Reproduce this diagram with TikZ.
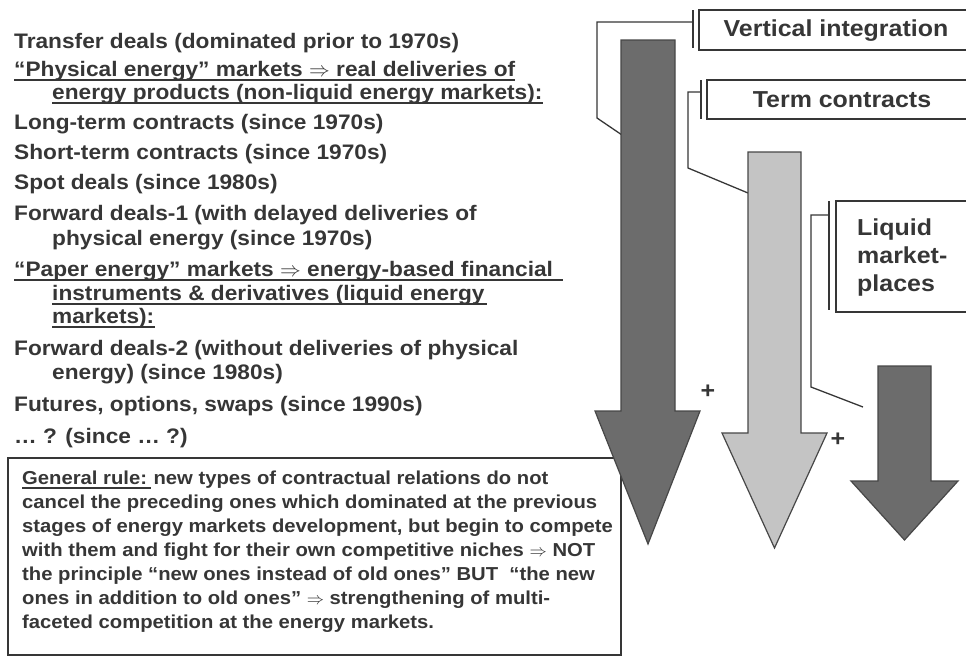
\documentclass[tikz,border=0pt]{standalone}
\usepackage{fontspec}
\setmainfont{Liberation Sans}[FakeStretch=1.08]
\usetikzlibrary{calc}
\definecolor{txt}{HTML}{363636}
\definecolor{darkar}{HTML}{6C6C6C}
\definecolor{lightar}{HTML}{C4C4C4}
\definecolor{edgec}{HTML}{474747}
\tikzset{
  lst/.style={font=\fontsize{21.0}{26}\selectfont\bfseries, text=txt, inner sep=0pt, anchor=base west},
  rul/.style={font=\fontsize{18.75}{24}\selectfont\bfseries, text=txt, inner sep=0pt, anchor=base west},
  lab/.style={font=\fontsize{23.1}{28}\selectfont\bfseries, text=txt, inner sep=0pt},
  conn/.style={draw=txt, line width=1.3pt},
  boxline/.style={draw=txt, line width=1.3pt},
  arrdark/.style={fill=darkar, draw=edgec, line width=1.2pt, line join=miter},
  arrlight/.style={fill=lightar, draw=edgec, line width=1.2pt, line join=miter},
  ul/.style={draw=txt, line width=1.3pt}
}
\newcommand\ulnode[2][0]{\draw[ul] ($(#2.base west)+(0,4)$) -- ($(#2.base east)+(#1,4)$);}
\begin{document}
\begin{tikzpicture}[x=1pt,y=-1pt]
\useasboundingbox (0,0) rectangle (966,657);
% rule box (behind arrows)
\draw[boxline] (8,458) rectangle (621,655);
% connectors
\coordinate (c1s) at (693,22); \coordinate (c1e) at (622,135);
\coordinate (c2s) at (701,92); \coordinate (c2e) at (748,193);
\coordinate (c3s) at (829,215); \coordinate (c3e) at (863,407);
\draw[conn] (c1s) -- (597,22) -- (597,118) -- (c1e);
\draw[conn] (c2s) -- (688,92) -- (688,168) -- (c2e);
\draw[conn] (c3s) -- (811,215) -- (811,387) -- (c3e);
% arrows
\draw[arrdark] (621,40) -- (675,40) -- (675,411) -- (700,411) -- (648,544) -- (595,411) -- (621,411) -- cycle;
\draw[arrlight] (748,152) -- (801,152) -- (801,433) -- (827,433) -- (774.5,548) -- (722,433) -- (748,433) -- cycle;
\draw[arrdark] (878,366) -- (931,366) -- (931,481) -- (958,481) -- (904.5,540) -- (851,481) -- (878,481) -- cycle;
% label boxes with bars
\draw[boxline] (699,10) rectangle (975,50);
\draw[boxline] (693,10) -- (693,48);
\node[lab, anchor=base] (vi) at (836,36) {Vertical integration};
\draw[boxline] (707,80) rectangle (975,119);
\draw[boxline] (701,80) -- (701,119);
\node[lab, anchor=base] (tc) at (842,107) {Term contracts};
\draw[boxline] (836,201) rectangle (975,312);
\draw[boxline] (829,201) -- (829,310);
\node[lab, anchor=base west] (lq1) at (857,235) {Liquid};
\node[lab, anchor=base west] (lq2) at (857,263) {market-};
\node[lab, anchor=base west] (lq3) at (857,291) {places};
% plus signs
\node[lab] (p1) at (708,392) {+};
\node[lab] (p2) at (838,440) {+};
% left list
\node[lst] (l1) at (14,48) {Transfer deals (dominated prior to 1970s)};
\node[lst] (l2) at (14,76) {“Physical energy” markets $\Rightarrow$ real deliveries of};
\node[lst] (l3) at (52,99) {energy products (non-liquid energy markets):};
\node[lst] (l4) at (14,129) {Long-term contracts (since 1970s)};
\node[lst] (l5) at (14,159) {Short-term contracts (since 1970s)};
\node[lst] (l6) at (14,189) {Spot deals (since 1980s)};
\node[lst] (l7) at (14,220) {Forward deals-1 (with delayed deliveries of};
\node[lst] (l8) at (52,245) {physical energy (since 1970s)};
\node[lst] (l9) at (14,276) {“Paper energy” markets $\Rightarrow$ energy-based financial};
\node[lst] (l10) at (52,300) {instruments \& derivatives (liquid energy};
\node[lst] (l11) at (52,323) {markets):};
\node[lst] (l12) at (14,355) {Forward deals-2 (without deliveries of physical};
\node[lst] (l13) at (52,379) {energy) (since 1980s)};
\node[lst] (l14) at (14,411) {Futures, options, swaps (since 1990s)};
\node[lst] (l15) at (14,443) {… ? (since … ?)};
\ulnode{l2}
\ulnode{l3}
\ulnode[10]{l9}
\ulnode[2]{l10}
\ulnode{l11}
% rule text
\node[rul] (r1a) at (22,484) {General rule:};
\node[rul] (r1b) at ($(r1a.base east)+(6,0)$) {new types of contractual relations do not};
\ulnode[4]{r1a}
\node[rul] (r2) at (22,508) {cancel the preceding ones which dominated at the previous};
\node[rul] (r3) at (22,532) {stages of energy markets development, but begin to compete};
\node[rul] (r4) at (22,556) {with them and fight for their own competitive niches $\Rightarrow$ NOT};
\node[rul] (r5) at (22,580) {the principle “new ones instead of old ones” BUT\ \ “the new};
\node[rul] (r6) at (22,604) {ones in addition to old ones” $\Rightarrow$ strengthening of multi-};
\node[rul] (r7) at (22,628) {faceted competition at the energy markets.};
\end{tikzpicture}
\end{document}
